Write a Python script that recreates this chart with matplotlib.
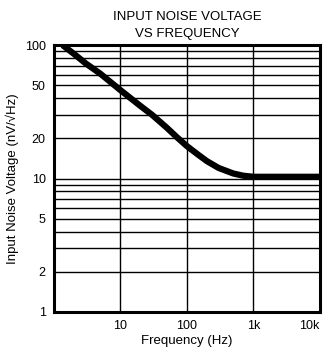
import matplotlib
matplotlib.use("Agg")
import matplotlib.pyplot as plt
from matplotlib.ticker import FixedLocator, NullFormatter

# Curve
freq = [1.35, 2, 3, 5, 10, 20, 30, 50, 70, 100, 150, 200, 300, 500, 700, 1000, 3000, 10000]
noise = [100, 86, 73, 61, 46, 35, 30, 24, 20.5, 17.5, 15, 13.5, 12, 10.9, 10.5, 10.3, 10.3, 10.3]

x_ticks = [10, 100, 1000, 10000]
x_labels = ["10", "100", "1k", "10k"]
y_ticks = [1, 2, 5, 10, 20, 50, 100]
y_labels = ["1", "2", "5", "10", "20", "50", "100"]
y_grid = [2, 3, 4, 5, 6, 7, 8, 9, 10, 20, 30, 40, 50, 60, 70, 80, 90]

plt.rcParams["font.family"] = ["Liberation Sans", "DejaVu Sans"]

fig = plt.figure(figsize=(3.25, 3.5), dpi=100)
ax = fig.add_axes([0.166, 0.109, 0.818, 0.762])

ax.set_xscale("log")
ax.set_yscale("log")
ax.set_xlim(1, 10000)
ax.set_ylim(1, 100)

for g in y_grid:
    ax.axhline(g, color="black", lw=1.0, zorder=1)
for g in x_ticks[:-1]:
    ax.axvline(g, color="black", lw=1.0, zorder=1)

ax.plot(freq, noise, color="black", lw=4.5, solid_capstyle="butt",
        solid_joinstyle="round", zorder=3)

ax.xaxis.set_major_locator(FixedLocator(x_ticks))
ax.set_xticklabels(x_labels)
ax.xaxis.set_minor_locator(FixedLocator([]))
ax.xaxis.set_minor_formatter(NullFormatter())
ax.yaxis.set_major_locator(FixedLocator(y_ticks))
ax.set_yticklabels(y_labels)
ax.yaxis.set_minor_locator(FixedLocator([]))
ax.yaxis.set_minor_formatter(NullFormatter())
ax.tick_params(length=0, labelsize=9, pad=6)
ax.get_xticklabels()[-1].set_horizontalalignment("right")

for s in ax.spines.values():
    s.set_linewidth(2.2)

ax.set_xlabel("Frequency (Hz)", fontsize=9.5, labelpad=2)
ax.set_ylabel("Input Noise Voltage (nV/\u221aHz)", fontsize=9.5, labelpad=4)
ax.set_title("INPUT NOISE VOLTAGE\nVS FREQUENCY", fontsize=9.5, linespacing=1.5, pad=6)

fig.savefig("out.png", dpi=100)
